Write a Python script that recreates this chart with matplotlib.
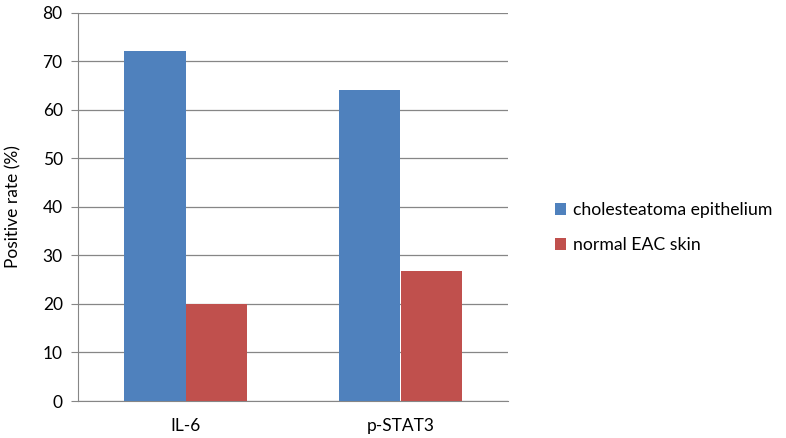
import matplotlib.pyplot as plt
import numpy as np

categories = ["IL-6", "p-STAT3"]
series_names = ["cholesteatoma epithelium", "normal EAC skin"]
cholesteatoma = [72.2, 64.0]
normal_skin = [20.0, 26.8]
colors = ["#4F81BD", "#C0504D"]

plt.rcParams["font.family"] = ["Lato", "DejaVu Sans"]

fig = plt.figure(figsize=(7.86, 4.38), dpi=100)
ax = fig.add_axes([78 / 786, 37 / 438, 430 / 786, 388.3 / 438])

x = np.arange(len(categories))
w = 0.284
ax.bar(x - w / 2, cholesteatoma, w, color=colors[0], label=series_names[0], zorder=3)
ax.bar(x + w / 2, normal_skin, w, color=colors[1], label=series_names[1], zorder=3)

ax.set_xlim(-0.5, 1.5)
ax.set_ylim(0, 80)
ax.set_yticks(range(0, 81, 10))
ax.set_xticks(x)
ax.set_xticklabels(categories)
ax.yaxis.grid(True, color="#868686", linewidth=0.9, zorder=0)
for side in ["top", "right"]:
    ax.spines[side].set_visible(False)
for side in ["left", "bottom"]:
    ax.spines[side].set_color("#868686")
ax.tick_params(axis="y", length=5, color="#868686", labelsize=12.5, pad=6)
ax.tick_params(axis="x", length=0, labelsize=12.5, pad=12)
ax.set_ylabel("Positive rate (%)", fontsize=12.5, labelpad=15)

fig.legend(loc="center left", bbox_to_anchor=(0.706, 0.48), frameon=False,
           borderaxespad=0, borderpad=0,
           fontsize=12.7, handlelength=0.65, handleheight=0.65,
           handletextpad=0.35, labelspacing=1.1)

fig.savefig("out.png", dpi=100)
